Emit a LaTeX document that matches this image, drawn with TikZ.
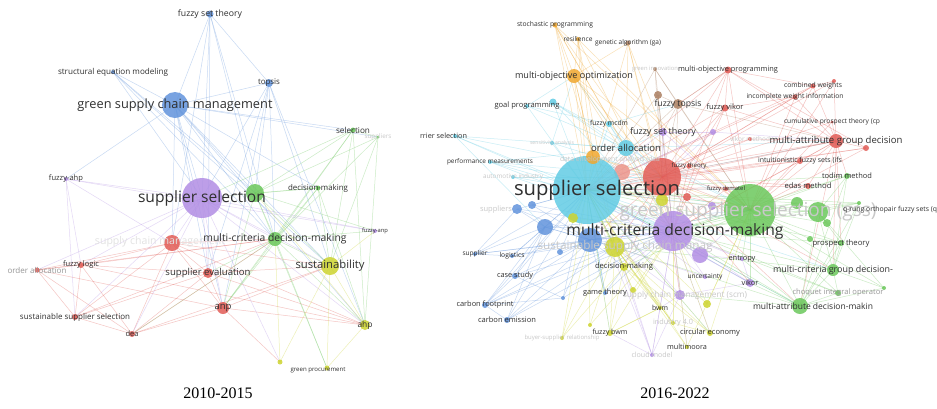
\documentclass[tikz,border=0pt]{standalone}
\usepackage{fontspec}
\usepackage{graphicx}
\newfontfamily\vosfont{Open Sans}
\newfontfamily\captfont{Liberation Serif}
\definecolor{vred}{RGB}{226,92,86}
\definecolor{vgreen}{RGB}{108,200,92}
\definecolor{vblue}{RGB}{98,148,220}
\definecolor{vyellow}{RGB}{205,212,48}
\definecolor{vpurple}{RGB}{178,142,228}
\definecolor{vcyan}{RGB}{98,204,228}
\definecolor{vorange}{RGB}{240,168,48}
\definecolor{vbrown}{RGB}{172,128,98}
\definecolor{vpink}{RGB}{236,150,140}
\definecolor{labtext}{RGB}{48,48,48}
\definecolor{labfaint}{RGB}{200,200,200}
\definecolor{labvfaint}{RGB}{226,226,226}
\definecolor{labmid}{RGB}{150,150,150}
\pgfdeclarelayer{edges}
\pgfdeclarelayer{labels}
\pgfsetlayers{edges,main,labels}
\tikzset{
  vcirc/.style={circle,inner sep=0pt,draw=none,fill opacity=0.85},
  vtext/.style={inner sep=0pt,text=labtext,font=\vosfont},
  vfaint/.style={text=labfaint},
  vvfaint/.style={text=labvfaint},
  vmid/.style={text=labmid},
  vedge/.style={line width=0.5pt,draw opacity=0.35},
  captstyle/.style={inner sep=0pt,font=\captfont\fontsize{16}{18}\selectfont,text=black}
}
\newcommand\vc[5]{\node[vcirc,fill=#5,minimum size={2*#4pt}] (#1) at (#2,#3) {};}
\newcommand\vl[6][]{\begin{pgfonlayer}{labels}\node[vtext,#1] (#2) at (#3,#4) {\resizebox{#5pt}{!}{#6}};\end{pgfonlayer}}
\newcommand\vn[7]{\vc{#1}{#2}{#3}{#4}{#5}\vl{#1-l}{#2}{#3}{#6}{#7}}
\newcommand\vnf[7]{\vc{#1}{#2}{#3}{#4}{#5}\vl[vfaint]{#1-l}{#2}{#3}{#6}{#7}}
\newcommand\ed[3]{\foreach \t in {#3} {\draw[vedge,draw=#1] (#2.center) -- (\t.center);}}
\begin{document}
\begin{tikzpicture}[x=1pt,y=-1pt]
\begin{pgfonlayer}{edges}
\fill[white] (0,0) rectangle (937,408);
\end{pgfonlayer}
\useasboundingbox (0,0) rectangle (937,408);
% ---------------- left panel ----------------
\vn{fst}{210}{14}{3.5}{vblue}{64}{fuzzy set theory}
\vn{sem}{113}{72}{2}{vblue}{110}{structural equation modeling}
\vn{gscm}{175}{105}{13}{vblue}{195}{green supply chain management}
\vn{tops}{269}{83}{4}{vblue}{22}{topsis}
\vn{sel}{353}{130}{2.5}{vgreen}{34}{selection}
\vnf{sups}{378}{137}{1.5}{vgreen}{27}{suppliers}
\vn{dm}{318}{188}{2.5}{vgreen}{60}{decision-making}
\vn{fahp}{66}{179}{2}{vpurple}{34}{fuzzy-ahp}
\vc{gnode}{255}{193}{9}{vgreen}
\vn{ss}{202}{198}{20}{vpurple}{128}{supplier selection}
\vc{scm}{172}{243}{8}{vred}
\vl[vvfaint]{scm-l}{160}{242}{130}{supply chain management}
\vn{mcdm}{275}{239}{7}{vgreen}{143}{multi-criteria decision-making}
\vn{fanp}{375}{231}{2}{vpurple}{26}{fuzzy-anp}
\vn{sust}{330}{266}{9}{vyellow}{69}{sustainability}
\vn{flog}{81}{265}{3}{vred}{36}{fuzzy logic}
\vc{oa}{37}{270}{2.5}{vred}
\vl[vmid]{oa-l}{37}{270}{59}{order allocation}
\vn{se}{208}{273}{5}{vred}{85}{supplier evaluation}
\vn{sss}{75}{317}{3}{vred}{110}{sustainable supplier selection}
\vn{dea}{132}{334}{3}{vred}{13}{dea}
\vn{anp}{223}{308}{6}{vred}{17}{anp}
\vn{ahp}{365}{325}{5}{vyellow}{15}{ahp}
\vc{gp2}{280}{362}{2.5}{vyellow}
\vc{gp}{327}{368}{2.5}{vyellow}
\vl{gp-l}{318}{370}{55}{green procurement}
% ---------------- right panel ----------------
\vn{Rstoch}{555}{25}{2.5}{vorange}{76}{stochastic programming}
\vn{Rresil}{578}{39}{2}{vorange}{29}{resilience}
\vn{Rga}{628}{43}{2.5}{vbrown}{66}{genetic algorithm (ga)}
\vn{Rmoo}{574}{76}{7}{vorange}{118}{multi-objective optimization}
\vnf{Rgi}{655}{69}{2}{vbrown}{46}{green innovation}
\vn{Rmop}{728}{70}{3.5}{vred}{100}{multi-objective programming}
\vn{Rcw}{813}{86}{2.5}{vred}{58}{combined weights}
\vn{Riwi}{795}{97}{2.5}{vred}{97}{incomplete weight information}
\vn{Rcpt}{832}{122}{1.5}{vred}{96}{cumulative prospect theory (cp}
\vn{Rft}{678}{104}{5}{vbrown}{47}{fuzzy topsis}
\vn{Rfv}{725}{108}{3.5}{vred}{37}{fuzzy vikor}
\vn{Rfm}{609}{124}{3}{vcyan}{38}{fuzzy mcdm}
\vn{Rfst}{663}{132}{4}{vpurple}{66}{fuzzy set theory}
\vnf{Rvm}{750}{139}{2}{vred}{40}{vikor method}
\vn{Rmagd}{836}{141}{7}{vred}{133}{multi-attribute group decision}
\vc{Rsalmon}{622}{172}{8}{vpink}
\vl[vfaint]{Rdea-l}{610}{160}{100}{data envelopment analysis (dea}
\vn{Roa}{626}{148}{8}{vcyan}{70}{order allocation}
\vn{Rfth}{689}{166}{2.5}{vred}{35}{fuzzy theory}
\vn{Rifs}{800}{161}{3}{vred}{84}{intuitionistic fuzzy sets (ifs}
\vc{Rcarrier}{455}{136}{2}{vcyan}
\vl{Rcarrier-l}{443.5}{136}{47}{rrier selection}
\vnf{Rsens}{552}{143}{2}{vcyan}{44}{sensitivity analysis}
\vn{Rpm}{490}{162}{2}{vcyan}{86}{performance measurements}
\vnf{Rauto}{513}{177}{2}{vcyan}{60}{automotive industry}
\vn{Rgp}{527}{106}{2}{vcyan}{65}{goal programming}
\vc{Rcy1}{553}{102}{3.5}{vcyan}
\vc{Rss}{587}{190}{34}{vcyan}
\vl{Rss-l}{597}{190}{166}{supplier selection}
\vc{Rbigred}{662}{177}{19}{vred}
\vc{Rgss}{750}{210}{26}{vgreen}
\vl[vfaint]{Rgss-l}{748}{212}{257}{green supplier selection (gss)}
\vn{Rfd}{726}{189}{2}{vred}{38}{fuzzy dematel}
\vn{Redas}{808}{186}{3}{vred}{47}{edas method}
\vn{Rtodim}{847}{176}{3}{vgreen}{50}{todim method}
\vc{Rqr}{859}{203}{2}{vgreen}
\vl{Rqr-l}{890}{210}{94}{q-rung orthopair fuzzy sets (q}
\vc{Rmcdm}{673}{231}{20}{vpurple}
\vl{Rmcdm-l}{675}{231}{217}{multi-criteria decision-making}
\vc{Rsscm}{615}{247}{10}{vyellow}
\vl[vfaint]{Rsscm-l}{625}{246}{175}{sustainable supply chain manag}
\vn{Rpt}{841}{243}{3}{vgreen}{57}{prospect theory}
\vn{Rdm}{624}{267}{4}{vyellow}{58}{decision-making}
\vn{Rent}{742}{259}{2}{vpurple}{27}{entropy}
\vn{Runc}{705}{277}{2}{vpurple}{35}{uncertainty}
\vn{Rvik}{750}{283}{4}{vpurple}{17}{vikor}
\vn{Rmcgd}{833}{270}{6}{vgreen}{120}{multi-criteria group decision-}
\vc{Rchoq}{838}{293}{3}{vgreen}
\vl[vmid]{Rchoq-l}{838}{293}{91}{choquet integral operator}
\vc{Rmadm}{800}{306}{8}{vgreen}
\vl{Rmadm-l}{813}{306}{120}{multi-attribute decision-makin}
\vc{Rscm}{680}{295}{5}{vpurple}
\vl[vfaint]{Rscm-l}{685}{295}{124}{supply chain management (scm)}
\vn{Rgt}{605}{293}{2}{vblue}{44}{game theory}
\vn{Rbwm}{660}{308}{2}{vyellow}{16}{bwm}
\vnf{Ri40}{673}{323}{2}{vyellow}{40}{industry 4.0}
\vn{Rfbwm}{610}{333}{3}{vyellow}{35}{fuzzy bwm}
\vn{Rce}{710}{333}{3}{vyellow}{60}{circular economy}
\vn{Rmm}{687}{347}{2}{vyellow}{40}{multimoora}
\vnf{Rcm}{652}{355}{2}{vpurple}{41}{cloud model}
\vnf{Rbsr}{562}{338}{2}{vyellow}{75}{buyer-supplier relationship}
\vc{Rylw1}{590}{325}{2}{vyellow}
\vn{Rsup}{475}{254}{2}{vblue}{25}{supplier}
\vn{Rlog}{512}{256}{2}{vblue}{25}{logistics}
\vn{Rcs}{515}{276}{3}{vblue}{36}{case study}
\vn{Rcf}{485}{305}{3}{vblue}{57}{carbon footprint}
\vn{Rcem}{507}{320}{3}{vblue}{58}{carbon emission}
\vc{Rb1}{517}{209}{5}{vblue}
\vl[vfaint]{Rb1-l}{496}{210}{32}{suppliers}
\vc{Rb2}{532}{205}{4}{vblue}
\vc{Rb3}{545}{227}{8}{vblue}
\vc{Rb5}{563}{298}{2}{vblue}
\vc{Rb6}{560}{252}{3}{vblue}
\vc{Rbbig}{590}{240}{12}{vblue}
\vc{Ry1}{573}{218}{5}{vyellow}
\vc{Ro1}{593}{157}{7}{vorange}
\vc{Ry2}{662}{200}{6}{vyellow}
\vc{Rr1}{687}{197}{4}{vred}
\vc{Rp1}{712}{206}{4}{vpurple}
\vc{Rp2}{700}{255}{8}{vpurple}
\vc{Rg1}{797}{203}{6}{vgreen}
\vc{Rg2}{818}{212}{10}{vgreen}
\vc{Rg3}{827}{223}{4}{vgreen}
\vc{Rg4}{810}{239}{3}{vgreen}
\vc{Rg5}{884}{288}{2}{vgreen}
\vc{Rr2}{866}{148}{3}{vred}
\vc{Rr3}{834}{81}{2}{vred}
\vc{Rbr1}{658}{95}{4}{vbrown}
\vc{Rp3}{713}{132}{3}{vpurple}
\vc{Ry3}{633}{290}{3}{vyellow}
\vc{Ry4}{707}{304}{4}{vyellow}
% captions
\node[captstyle] (cap1) at (218,393) {2010-2015};
\node[captstyle] (cap2) at (675,393) {2016-2022};
% ---------------- edges ----------------
\begin{pgfonlayer}{edges}
% left
\ed{vblue}{gscm}{fst,sem,tops,ss,sel,mcdm,sust,fahp,dm,se,anp,ahp,scm,gnode,sups}
\ed{vblue}{fst}{tops,ss,mcdm,scm,se,gnode}
\ed{vblue}{sem}{ss,mcdm,sust,gnode}
\ed{vblue}{tops}{ss,mcdm,ahp,sust,anp,gnode,se}
\ed{vgreen}{sel}{ss,gnode,sups,mcdm,sust,anp,ahp}
\ed{vgreen}{sups}{gnode,ahp,mcdm,sust}
\ed{vgreen}{dm}{gnode,ss,sust,mcdm,ahp,anp}
\ed{vgreen}{gnode}{mcdm,sust,fanp,anp,gp}
\ed{vgreen}{mcdm}{sust,anp,ahp,gp,se,fanp,dea}
\ed{vpurple}{fahp}{ss,fanp,flog,scm,sss}
\ed{vpurple}{ss}{gnode,mcdm,scm,se,anp,sust,flog,oa,sss,dea,fanp,ahp,gp2}
\ed{vred}{scm}{flog,oa,sss,dea,se,anp,mcdm,sust,ahp}
\ed{vred}{flog}{oa,sss,dea,se,ahp,mcdm}
\ed{vred}{oa}{sss,dea,anp,mcdm}
\ed{vred}{se}{anp,dea,sss,sust,ahp}
\ed{vred}{anp}{dea,sust,ahp,gp2}
\ed{vred}{sss}{dea,mcdm}
\ed{vred}{dea}{sust,mcdm}
\ed{vyellow}{sust}{ahp,gp,gp2,fanp}
\ed{vyellow}{ahp}{gp,gnode}
\ed{vyellow}{gp2}{mcdm}
% right
\ed{vcyan}{Rcarrier}{Rss,Roa,Rmcdm,Rbigred,Rb3}
\ed{vcyan}{Rpm}{Rss,Roa,Rmcdm,Rgss,Rbigred}
\ed{vcyan}{Rsens}{Rss,Roa,Rmoo,Rbigred}
\ed{vcyan}{Rauto}{Rss,Rmcdm,Rbigred}
\ed{vcyan}{Rgp}{Rss,Rmoo,Roa,Rfm}
\ed{vcyan}{Rcy1}{Rss,Roa,Rmcdm,Rbigred,Rgss}
\ed{vcyan}{Rfm}{Rss,Rbigred,Rft,Rmcdm}
\ed{vcyan}{Roa}{Rss,Rbigred,Rmcdm,Rgss,Rmoo,Rfst,Rmagd}
\ed{vcyan}{Rss}{Rbigred,Rmcdm,Rgss,Rsscm,Rdm,Rbbig,Rmagd,Rmadm,Rmcgd,Rfd,Rvik,Rce,Rgt,Rfbwm}
\ed{vorange}{Rstoch}{Rmoo,Rss,Roa,Ro1,Rmcdm,Rbigred,Rgss}
\ed{vorange}{Rresil}{Rmoo,Rss,Ro1,Rmcdm,Rsscm,Rgss}
\ed{vorange}{Rga}{Rmoo,Rss,Roa,Rbigred,Rmcdm,Rfst}
\ed{vorange}{Rmoo}{Rss,Ro1,Rbigred,Rmcdm,Rsscm,Rgss,Rfm}
\ed{vorange}{Ro1}{Rss,Rbigred,Rmcdm,Rgss}
\ed{vbrown}{Rgi}{Rft,Rss,Rbigred,Rmcdm,Rgss}
\ed{vbrown}{Rbr1}{Rss,Rft,Rbigred,Rmcdm}
\ed{vbrown}{Rft}{Rss,Rbigred,Rmcdm,Rgss,Rmagd,Rfst,Rmop}
\ed{vred}{Rmop}{Rbigred,Rmagd,Rfv,Rss,Rgss,Rmcdm,Rft,Rr2,Rcw}
\ed{vred}{Rcw}{Rmagd,Rbigred,Riwi,Rgss,Rss}
\ed{vred}{Rr3}{Rmagd,Rcw,Rbigred,Rgss}
\ed{vred}{Riwi}{Rmagd,Rbigred,Rss,Rgss,Rfv}
\ed{vred}{Rcpt}{Rmagd,Rbigred,Rgss}
\ed{vred}{Rfv}{Rbigred,Rmagd,Rss,Rmcdm,Rgss,Rfth}
\ed{vred}{Rvm}{Rmagd,Rbigred,Rss}
\ed{vred}{Rmagd}{Rbigred,Rss,Rgss,Rmcdm,Rifs,Redas,Rr2,Rtodim,Rfth,Rmcgd,Rmadm,Rpt}
\ed{vred}{Rifs}{Rbigred,Rss,Rgss,Rmcdm}
\ed{vred}{Redas}{Rbigred,Rgss,Rss}
\ed{vred}{Rfth}{Rbigred,Rss,Rgss,Rmcdm}
\ed{vred}{Rfd}{Rbigred,Rgss,Rss,Rmcdm}
\ed{vred}{Rbigred}{Rmcdm,Rgss,Rsscm,Rdm,Rbbig,Rmadm,Rmcgd,Rvik,Rscm}
\ed{vred}{Rr2}{Rgss,Rbigred,Rss}
\ed{vred}{Rr1}{Rss,Rgss}
\ed{vpink}{Rsalmon}{Rss,Rbigred,Rmcdm,Roa}
\ed{vgreen}{Rgss}{Rmcdm,Rtodim,Rqr,Rpt,Rmcgd,Rchoq,Rmadm,Rg1,Rg2,Rg3,Rg4,Rg5,Rsscm,Rdm,Rbbig,Rvik,Rent}
\ed{vgreen}{Rtodim}{Rmadm,Rmcgd,Rss,Rmcdm,Rg2}
\ed{vgreen}{Rqr}{Rg2,Rmadm,Rmcgd,Rss,Rmcdm}
\ed{vgreen}{Rpt}{Rmcgd,Rmadm,Rss,Rmcdm,Rg2}
\ed{vgreen}{Rmcgd}{Rmadm,Rmcdm,Rchoq,Rg2,Rsscm,Rg5}
\ed{vgreen}{Rchoq}{Rmadm,Rmcdm,Rss}
\ed{vgreen}{Rmadm}{Rmcdm,Rss,Rg2,Rvik,Rent,Rsscm,Rscm}
\ed{vgreen}{Rg2}{Rss,Rmcdm,Rg1}
\ed{vgreen}{Rg1}{Rss,Rmcdm}
\ed{vgreen}{Rg5}{Rmadm,Rg2}
\ed{vpurple}{Rmcdm}{Rsscm,Rdm,Rbbig,Rp2,Rent,Runc,Rvik,Rscm,Rbwm,Rce,Rmm,Rcm,Rfst}
\ed{vpurple}{Rfst}{Rss,Rbigred,Rp3,Rgss}
\ed{vpurple}{Rp3}{Rmagd,Rbigred,Rss}
\ed{vpurple}{Rp1}{Rss,Rgss}
\ed{vpurple}{Rp2}{Rss,Rgss,Rvik,Rent}
\ed{vpurple}{Rent}{Rss,Rvik}
\ed{vpurple}{Runc}{Rss,Rsscm}
\ed{vpurple}{Rvik}{Rss,Rscm}
\ed{vpurple}{Rscm}{Rss,Rsscm,Rcm,Rbwm}
\ed{vpurple}{Rcm}{Rss,Rsscm,Rfbwm,Rbwm,Rdm}
\ed{vblue}{Rsup}{Rbbig,Rss,Rb3,Rmcdm,Rb1,Rlog}
\ed{vblue}{Rlog}{Rbbig,Rss,Rb3,Rmcdm}
\ed{vblue}{Rcs}{Rbbig,Rss,Rb3,Rmcdm,Rb5,Rcf}
\ed{vblue}{Rcf}{Rbbig,Rss,Rb3,Rmcdm,Rcem,Rsscm,Rb5}
\ed{vblue}{Rcem}{Rbbig,Rss,Rb3,Rmcdm,Rsscm}
\ed{vblue}{Rb1}{Rss,Rmcdm,Rb3,Rbbig}
\ed{vblue}{Rb2}{Rss,Rmcdm,Rbbig}
\ed{vblue}{Rb3}{Rss,Rmcdm,Rbbig,Rsscm,Rgss}
\ed{vblue}{Rb5}{Rss,Rmcdm,Rbbig}
\ed{vblue}{Rb6}{Rss,Rbbig}
\ed{vblue}{Rgt}{Rss,Rbbig,Rmcdm,Rdm}
\ed{vblue}{Rbbig}{Rmcdm,Rsscm,Rgss,Rdm}
\ed{vyellow}{Rsscm}{Rdm,Rss,Rce,Rfbwm,Rbwm,Rmm,Rbsr,Ry3,Ri40,Rylw1}
\ed{vyellow}{Rdm}{Rss,Rfbwm,Rce,Rbwm,Rbsr}
\ed{vyellow}{Rbwm}{Rss,Rfbwm}
\ed{vyellow}{Ri40}{Rss,Rmcdm,Rsscm,Rce}
\ed{vyellow}{Rfbwm}{Rss,Rmcdm,Rbwm}
\ed{vyellow}{Rce}{Rss,Rmcdm,Rgss}
\ed{vyellow}{Rmm}{Rss,Rmcdm,Rgss}
\ed{vyellow}{Rbsr}{Rss,Rbbig}
\ed{vyellow}{Rylw1}{Rss,Rmcdm}
\ed{vyellow}{Ry1}{Rss,Rmcdm}
\ed{vyellow}{Ry2}{Rss,Rmcdm,Rgss}
\ed{vyellow}{Ry3}{Rss,Rmcdm}
\ed{vyellow}{Ry4}{Rss,Rmcdm,Rgss}
\end{pgfonlayer}
\end{tikzpicture}
\end{document}
